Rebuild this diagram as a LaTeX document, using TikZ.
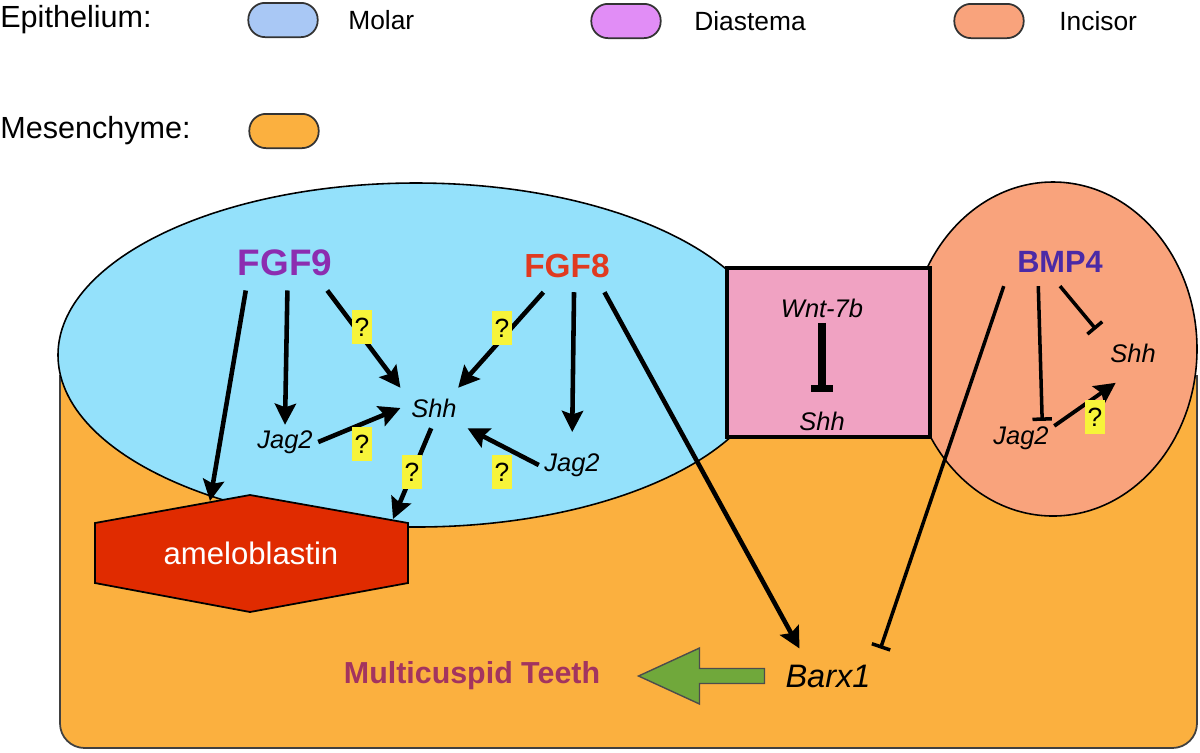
\documentclass[tikz,border=0pt]{standalone}
\usepackage{fontspec}
\setmainfont{Liberation Sans}
\usetikzlibrary{positioning, arrows.meta, calc}

\definecolor{epiblue}{HTML}{94E1FB}
\definecolor{keyblue}{HTML}{A9C8F5}
\definecolor{keyviolet}{HTML}{E18DF6}
\definecolor{diapink}{HTML}{F0A2C2}
\definecolor{incisor}{HTML}{F9A37C}
\definecolor{mesen}{HTML}{FBB03F}
\definecolor{amelored}{HTML}{E02B00}
\definecolor{fgfpurple}{HTML}{8C2DB0}
\definecolor{fgfred}{HTML}{E03A20}
\definecolor{bmpblue}{HTML}{4B2AA6}
\definecolor{teethred}{HTML}{A3345F}
\definecolor{leafgreen}{HTML}{70A83B}
\definecolor{qyellow}{HTML}{F7F43A}

\tikzset{
  act/.style={line width=2.6pt, -{Stealth[length=12pt, width=12pt, inset=2pt]}},
  blk/.style={line width=2pt, -{Bar[width=11pt]}},
  gene/.style={font=\fontsize{14.5}{17}\selectfont\itshape, inner sep=3pt},
  qbox/.style={fill=qyellow, inner sep=0pt, minimum width=11pt, minimum height=19pt, font=\fontsize{15}{17}\selectfont},
  keypill/.style={draw=black!80, line width=1pt, rounded corners=9.5pt, minimum width=39.5pt, minimum height=19.5pt},
  keytxt/.style={anchor=west, inner sep=0pt, font=\fontsize{15}{18}\selectfont},
  headtxt/.style={anchor=west, inner sep=0pt, font=\fontsize{17.4}{20}\selectfont}
}

\begin{document}
\begin{tikzpicture}[x=0.02cm, y=-0.02cm]
\useasboundingbox (0,0) rectangle (1200,752);
% legend
\node[headtxt] (epilab) at (0,20) {Epithelium:};
\node[keypill, fill=keyblue] (molarkey) at (283,20) {};
\node[keytxt] (molarlab) at (348,20) {Molar};
\node[keypill, fill=keyviolet] (diakey) at (626,21) {};
\node[keytxt] (dialab) at (694,21) {Diastema};
\node[keypill, fill=incisor] (inckey) at (989,21) {};
\node[keytxt] (inclab) at (1059,21) {Incisor};
\node[headtxt] (meslab) at (0,131) {Mesenchyme:};
\node[keypill, fill=mesen] (meskey) at (284,131) {};

% tissues
\filldraw[fill=mesen, draw=black!75, line width=1pt, rounded corners=14pt] (60,375) -- (60,748) -- (1197,748) -- (1197,375);
\draw[fill=epiblue, line width=0.9pt] (416,355) ellipse [x radius=358, y radius=172];
\draw[fill=incisor, line width=0.9pt] (1053,349) ellipse [x radius=144, y radius=167];
\draw[fill=diapink, line width=1.8pt] (727,268) rectangle (930,437);
\draw[fill=amelored, line width=1pt] (95,523) -- (250,495) -- (408,523) -- (408,583) -- (250,612) -- (95,583) -- cycle;

% genes
\node[text=white, font=\fontsize{17.7}{20}\selectfont] (amelo) at (251,553) {ameloblastin};
\coordinate (ameloL) at (210,501);
\coordinate (ameloR) at (393,519);
\node[font=\fontsize{21}{25}\selectfont\bfseries, text=fgfpurple, inner sep=8pt] (fgfnine) at (285,263) {FGF9};
\node[font=\fontsize{19}{23}\selectfont\bfseries, text=fgfred, inner sep=8pt] (fgfeight) at (567,266) {FGF8};
\node[gene, inner sep=6pt] (shhM) at (434,408) {Shh};
\node[gene] (jagA) at (285,442) {Jag2};
\node[gene] (jagB) at (572,465) {Jag2};
\node[gene] (wnt) at (822,308) {Wnt-7b};
\node[gene] (shhD) at (822,421) {Shh};
\node[font=\fontsize{17.5}{21}\selectfont\bfseries, text=bmpblue, inner sep=7.5pt] (bmp) at (1060,262) {BMP4};
\node[gene, inner sep=8pt] (shhI) at (1133,353) {Shh};
\node[gene] (jagI) at (1021,438) {Jag2};
\node[font=\fontsize{18.5}{22}\selectfont\itshape, inner xsep=5.5pt, inner ysep=9pt] (barx) at (828,676) {Barx1};
\node[font=\fontsize{17.3}{20}\selectfont\bfseries, text=teethred] (teeth) at (472,676) {Multicuspid Teeth};

% interactions
\draw[act] (fgfnine.215) -- (ameloL);
\draw[act] (fgfnine.275) -- (jagA.north);
\draw[act] (fgfnine.-33) -- (shhM.north west);
\draw[act] (jagA.east) -- (shhM.west);
\draw[act] (shhM.262) -- (ameloR);
\draw[act] (fgfeight.228) -- (shhM.40);
\draw[act, shorten >=9pt] (fgfeight.285) -- (jagB.north);
\draw[act] (jagB.west) -- (shhM.south east);
\draw[act] (fgfeight.-35) -- (barx.136);
\draw[line width=4pt, -{Bar[width=12.5pt]}, shorten >=8pt] (wnt.south) -- (shhD.north);
\draw[blk] (bmp.228) -- (jagI.39);
\draw[blk] (bmp.south) -- (shhI.north west);
\draw[blk] (bmp.south west) -- (barx.north east);
\draw[act, line width=2.2pt, shorten >=6pt] (jagI.20) -- (shhI.250);
\draw[fill=leafgreen, draw=black!70, line width=0.8pt] (barx.west) ++(-11,-7.5) -- ++(-65,0) -- ++(0,-20.5) -- ++(-61,28) -- ++(61,28) -- ++(0,-20.5) -- ++(65,0) -- cycle;

% unknown links
\node[qbox] (qa) at (362,327) {?};
\node[qbox] (qb) at (362,444) {?};
\node[qbox] (qc) at (502,328) {?};
\node[qbox] (qd) at (412,472) {?};
\node[qbox] (qe) at (502,472) {?};
\node[qbox] (qf) at (1095,417) {?};
\end{tikzpicture}
\end{document}
